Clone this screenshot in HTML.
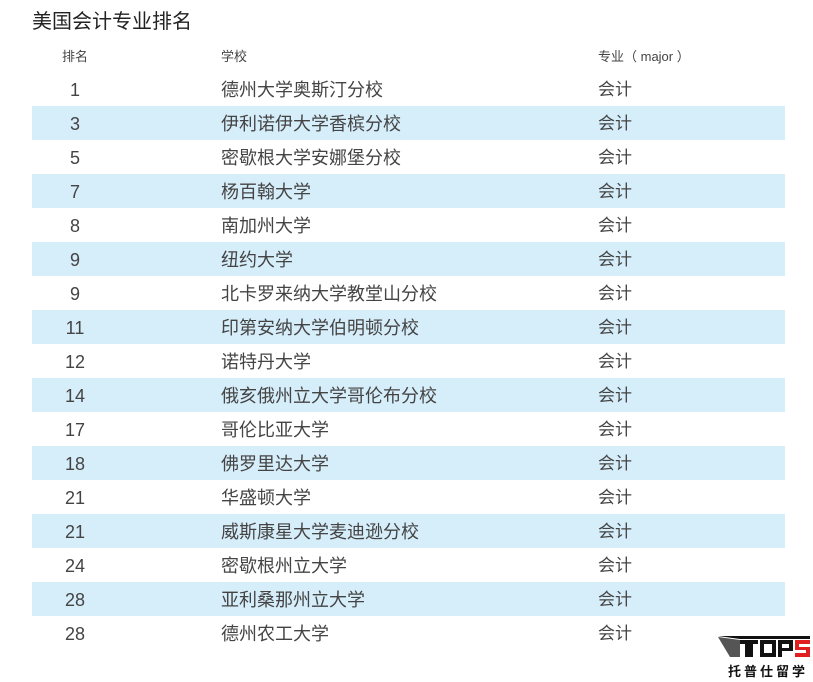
<!DOCTYPE html>
<html><head><meta charset="utf-8"><style>
body{margin:0;width:813px;height:682px;background:#fff;font-family:"Liberation Sans","Noto Sans CJK SC",sans-serif;color:#333;position:relative;overflow:hidden}
.t{position:absolute;left:32px;top:5px;font-size:20px;color:#222}
.h{position:absolute;top:46px;font-size:13px;color:#444}
.r{position:absolute;left:32px;width:753px;height:34px;font-size:18px;color:#444}
.r.s{background:#d6edfa}
.r span{position:absolute;top:0;line-height:36px}
.a{left:0;width:86px;text-align:center}
.b{left:189px}.c{left:566px;font-size:17px}
.logo{position:absolute;left:718px;top:636px;width:92px}
</style></head><body>
<div class="t">美国会计专业排名</div>
<div class="h" style="left:62px">排名</div>
<div class="h" style="left:221px">学校</div>
<div class="h" style="left:598px">专业（ major ）</div>
<div class="r" style="top:72px"><span class="a">1</span><span class="b">德州大学奥斯汀分校</span><span class="c">会计</span></div>
<div class="r s" style="top:106px"><span class="a">3</span><span class="b">伊利诺伊大学香槟分校</span><span class="c">会计</span></div>
<div class="r" style="top:140px"><span class="a">5</span><span class="b">密歇根大学安娜堡分校</span><span class="c">会计</span></div>
<div class="r s" style="top:174px"><span class="a">7</span><span class="b">杨百翰大学</span><span class="c">会计</span></div>
<div class="r" style="top:208px"><span class="a">8</span><span class="b">南加州大学</span><span class="c">会计</span></div>
<div class="r s" style="top:242px"><span class="a">9</span><span class="b">纽约大学</span><span class="c">会计</span></div>
<div class="r" style="top:276px"><span class="a">9</span><span class="b">北卡罗来纳大学教堂山分校</span><span class="c">会计</span></div>
<div class="r s" style="top:310px"><span class="a">11</span><span class="b">印第安纳大学伯明顿分校</span><span class="c">会计</span></div>
<div class="r" style="top:344px"><span class="a">12</span><span class="b">诺特丹大学</span><span class="c">会计</span></div>
<div class="r s" style="top:378px"><span class="a">14</span><span class="b">俄亥俄州立大学哥伦布分校</span><span class="c">会计</span></div>
<div class="r" style="top:412px"><span class="a">17</span><span class="b">哥伦比亚大学</span><span class="c">会计</span></div>
<div class="r s" style="top:446px"><span class="a">18</span><span class="b">佛罗里达大学</span><span class="c">会计</span></div>
<div class="r" style="top:480px"><span class="a">21</span><span class="b">华盛顿大学</span><span class="c">会计</span></div>
<div class="r s" style="top:514px"><span class="a">21</span><span class="b">威斯康星大学麦迪逊分校</span><span class="c">会计</span></div>
<div class="r" style="top:548px"><span class="a">24</span><span class="b">密歇根州立大学</span><span class="c">会计</span></div>
<div class="r s" style="top:582px"><span class="a">28</span><span class="b">亚利桑那州立大学</span><span class="c">会计</span></div>
<div class="r" style="top:616px"><span class="a">28</span><span class="b">德州农工大学</span><span class="c">会计</span></div>
<div class="logo">
<svg width="92" height="22" viewBox="0 0 92 22"><polygon points="0,0 92,0 92,3 22,3" fill="#111"/><rect x="22" y="4" width="18" height="4" fill="#111"/><rect x="27" y="4" width="8" height="17" fill="#111"/><rect x="42" y="4" width="16" height="17" fill="#111"/><rect x="46" y="8" width="8" height="9" fill="#fff"/><rect x="60" y="4" width="15" height="17" fill="#111"/><rect x="64" y="8" width="7" height="4" fill="#fff"/><rect x="64" y="15" width="11" height="6" fill="#fff"/><rect x="77" y="4" width="15" height="17" fill="#e02020"/><rect x="81" y="8" width="11" height="3" fill="#fff"/><rect x="77" y="14" width="11" height="3" fill="#fff"/><polygon points="0,1 22,4 22,21 12,21" fill="#555"/></svg>
<div style="font-size:13px;letter-spacing:3px;color:#111;font-weight:bold;margin-top:-2px;padding-left:10px">托普仕留学</div>
</div>
</body></html>
